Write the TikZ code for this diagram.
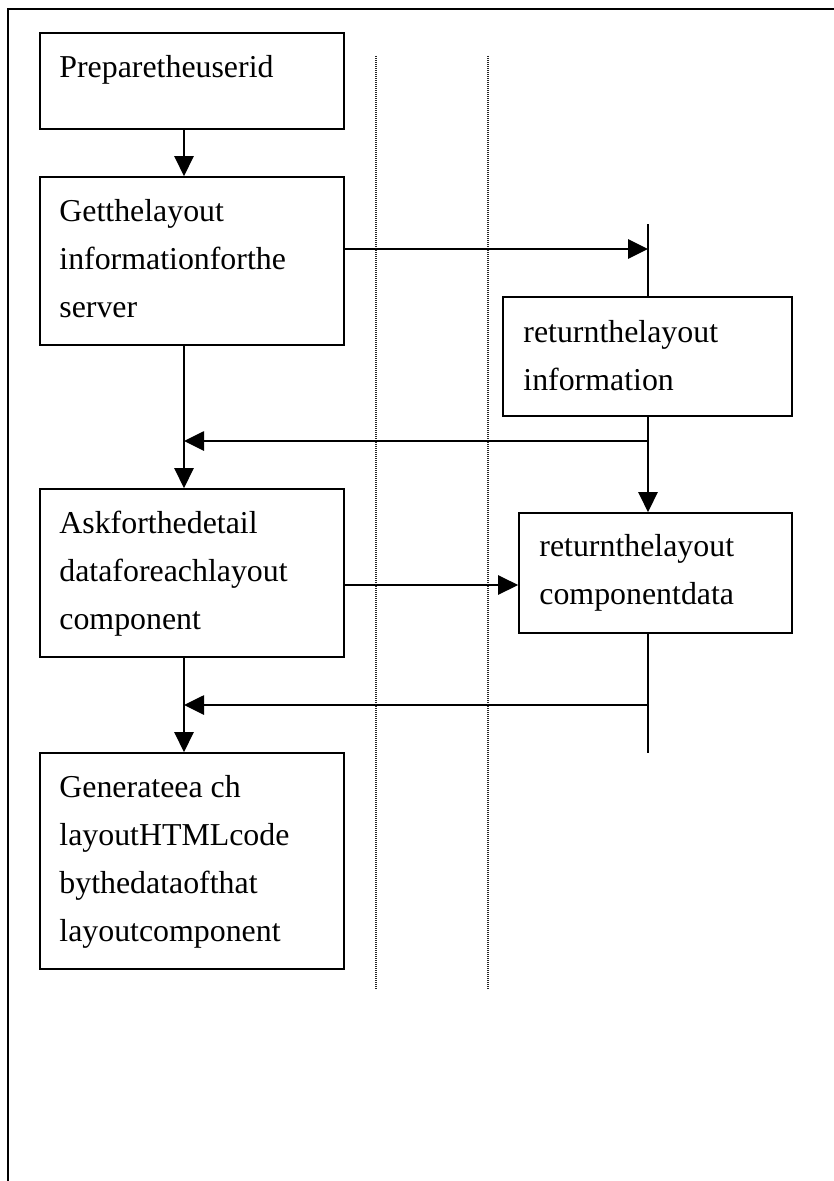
\documentclass[tikz,border=0pt]{standalone}
\usepackage{fontspec}
\setmainfont{Liberation Serif}
\usetikzlibrary{arrows.meta,fit,calc}

% stacked left-aligned lines; the baseline of the block is that of its first line
\newcommand\linestack[1]{\vtop{\baselineskip=36pt\lineskiplimit=-100pt\lineskip=0pt\halign{##\hfil\cr#1\crcr}}}

\tikzset{
  stepbox/.style={draw, line width=1.3pt, inner sep=0pt, rectangle},
  boxtext/.style={anchor=base west, inner sep=0pt, font=\fontsize{23.9}{36}\selectfont},
  flow/.style={line width=1.2pt},
  arr/.style={flow, -{Triangle[length=15pt, width=14.5pt]}},
  lane/.style={line width=0.8pt, black!85, dash pattern=on 0.75pt off 0.75pt},
  frame/.style={line width=1.6pt, line cap=rect}
}

\begin{document}
\begin{tikzpicture}[x=0.75pt, y=-0.75pt]
\useasboundingbox (0,0) rectangle (834,1181);

% outer frame (open at the right and bottom)
\draw[frame] (8,1181) -- (8,9) -- (834,9);

% swimlane separators
\draw[lane] (376,56) -- (376,990);
\draw[lane] (488,56) -- (488,990);

% client-side steps
\node[stepbox, fit={(40,33) (344,129)}] (b1) {};
\node[stepbox, fit={(40,177) (344,345)}] (b2) {};
\node[stepbox, fit={(40,489) (344,657)}] (b4) {};
\node[stepbox, fit={(40,753) (344,969)}] (b6) {};

% server-side steps
\node[stepbox, fit={(503,297) (792,416)}] (b3) {};
\node[stepbox, fit={(519,513) (792,633)}] (b5) {};

% labels
\node[boxtext] at ($(b1.north west)+(20,45)$) {\linestack{Preparetheuserid}};
\node[boxtext] at ($(b2.north west)+(20,45)$) {\linestack{Getthelayout\cr informationforthe\cr server}};
\node[boxtext] at ($(b3.north west)+(21,46)$) {\linestack{returnthelayout\cr information}};
\node[boxtext] at ($(b4.north west)+(20,45)$) {\linestack{Askforthedetail\cr dataforeachlayout\cr component}};
\node[boxtext] at ($(b5.north west)+(21,44)$) {\linestack{returnthelayout\cr componentdata}};
\node[boxtext] at ($(b6.north west)+(20,45)$) {\linestack{Generateea ch\cr layoutHTMLcode\cr bythedataofthat\cr layoutcomponent}};

% main column and server lifeline
\coordinate (m) at (184,0);
\coordinate (lt) at (648,224);
\coordinate (la) at (648,249);
\coordinate (lr1) at (648,441);
\coordinate (lr2) at (648,705);
\coordinate (lb) at (648,753);
\coordinate (ra) at (0,585);

% client flow
\draw[arr] (b1.south -| m) -- (b2.north -| m);
\draw[arr] (b2.south -| m) -- (b4.north -| m);
\draw[arr] (b4.south -| m) -- (b6.north -| m);

% server lifeline
\draw[flow] (lt) -- (b3.north -| lt);
\draw[arr] (b3.south -| lt) -- (b5.north -| lt);
\draw[flow] (b5.south -| lt) -- (lb);

% requests and replies
\draw[arr] (b2.east |- la) -- (la);
\draw[arr] (lr1) -- (lr1 -| m);
\draw[arr] (b4.east |- ra) -- (b5.west |- ra);
\draw[arr] (lr2) -- (lr2 -| m);
\end{tikzpicture}
\end{document}
